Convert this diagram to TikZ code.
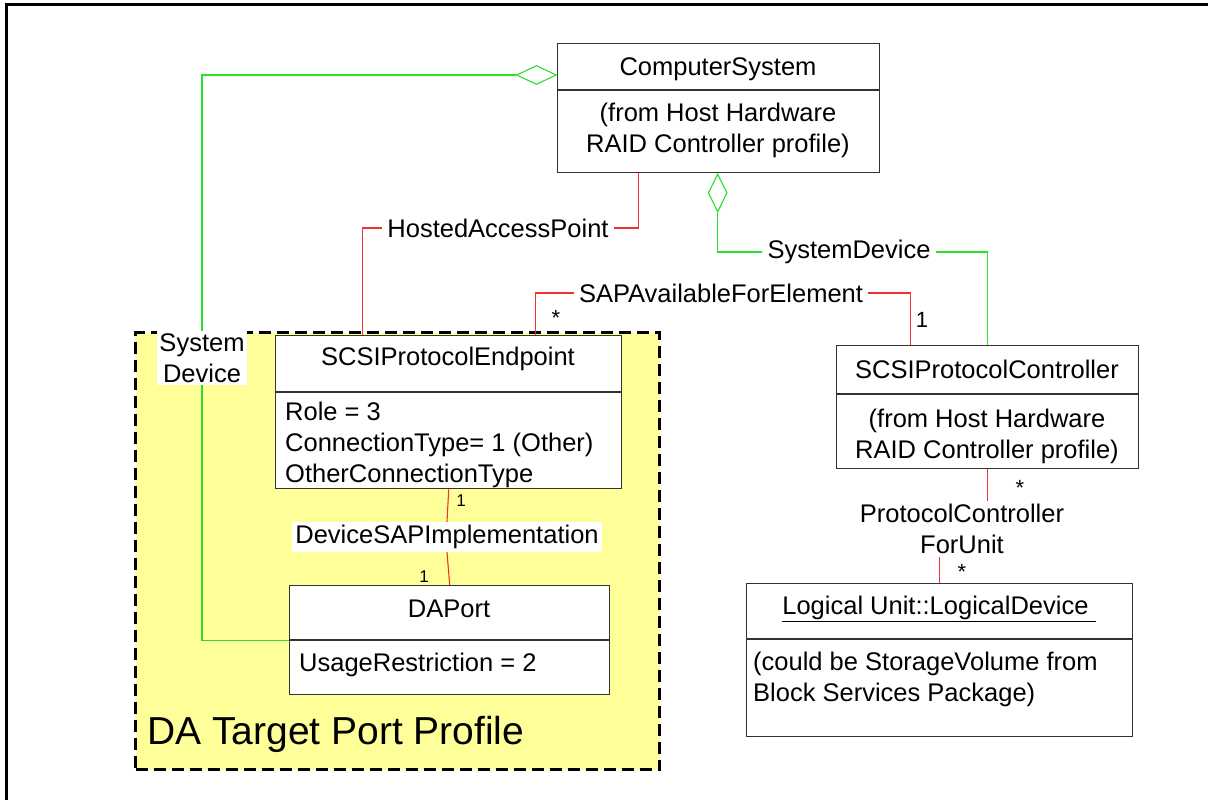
\documentclass[tikz,border=0pt]{standalone}
\usepackage{fontspec}
\setmainfont{Liberation Sans}
\usepackage{xcolor}
\usetikzlibrary{positioning,shapes.geometric}

\definecolor{profileyellow}{RGB}{255,255,153}
\definecolor{assocred}{RGB}{238,50,50}
\definecolor{aggrgreen}{RGB}{40,225,40}

\tikzset{
	classbox/.style={draw=black!80, line width=1.4pt, fill=white, anchor=north west, inner sep=0pt},
	classline/.style={draw=black!80, line width=1.4pt},
	profilebox/.style={draw=black, line width=3pt, dash pattern=on 12pt off 6pt, fill=profileyellow, anchor=north west, inner sep=0pt},
	assoc/.style={draw=assocred, line width=1.1pt},
	aggr/.style={draw=aggrgreen, line width=1.1pt},
	diam/.style={diamond, draw=aggrgreen, line width=1.1pt, fill=white, inner sep=0pt},
	txt/.style={font=\fontsize{25.5}{31}\selectfont, inner sep=0pt},
	lbl/.style={font=\fontsize{25.5}{31}\selectfont, inner sep=5pt},
	mult/.style={font=\fontsize{22}{26}\selectfont, inner sep=0pt},
	smallmult/.style={font=\fontsize{17}{20}\selectfont, inner sep=0pt}
}

\begin{document}
\begin{tikzpicture}[x=1pt, y=-1pt]
	\useasboundingbox (0,0) rectangle (1208,800);
	% frame
	\draw [line width=3pt] (6,800) -- (6,5) -- (1208,5);
	
	% profile
	\node [profilebox, minimum width=524pt, minimum height=437pt] (profile) at (134,331) {};
	\node [txt, anchor=west, font=\fontsize{39}{45}\selectfont] (profilename) at (147,734) {DA Target Port Profile};
	
	% classes
	\node [classbox, minimum width=322pt, minimum height=129pt] (cs) at (557,43) {};
	\draw [classline] (557,90) -- (879,90);
	\node [txt] (cstitle) at (718,69) {ComputerSystem};
	\node [txt, align=center] (csbody) at (718,130) {(from Host Hardware\\RAID Controller profile)};
	
	\node [classbox, minimum width=346pt, minimum height=153pt] (sep) at (275,335) {};
	\draw [classline] (275,392) -- (621,392);
	\node [txt] (septitle) at (448,359) {SCSIProtocolEndpoint};
	\node [txt, align=left, anchor=west] (sepbody) at (285,445) {Role = 3\\ConnectionType= 1 (Other)\\OtherConnectionType};
	
	\node [classbox, minimum width=320pt, minimum height=109pt] (dap) at (289,585) {};
	\draw [classline] (289,640) -- (609,640);
	\node [txt] (daptitle) at (449,609) {DAPort};
	\node [txt, anchor=west] (dapbody) at (299,665) {UsageRestriction = 2};
	
	\node [classbox, minimum width=302pt, minimum height=123pt] (spc) at (836,345) {};
	\draw [classline] (836,394) -- (1138,394);
	\node [txt] (spctitle) at (987,369) {SCSIProtocolController};
	\node [txt, align=center] (spcbody) at (987,436) {(from Host Hardware\\RAID Controller profile)};
	
	\node [classbox, minimum width=386pt, minimum height=153pt] (ld) at (746,583) {};
	\draw [classline] (746,639) -- (1132,639);
	\node [txt] (ldtitle) at (939,609) {\underline{Logical Unit::LogicalDevice\ }};
	\node [txt, align=left, anchor=west] (ldbody) at (753,679) {(could be StorageVolume from\\Block Services Package)};
	
	% aggregations
	\node [diam, minimum width=40pt, minimum height=19pt, anchor=east] (dsysleft) at (557,75) {};
	\node [lbl, fill=white, align=center, inner sep=2pt] (sdleft) at (202,358) {System\\Device};
	\draw [aggr] (dsysleft.west) -| (sdleft.north);
	\draw [aggr] (sdleft.south) -- (sdleft.south |- dap.west) -- (dap.west);
	
	\node [diam, minimum width=19pt, minimum height=38pt, anchor=north] (dsysright) at ([xshift=-1pt]cs.south) {};
	\node [lbl] (sdright) at (849,252) {SystemDevice};
	\draw [aggr] (dsysright.south) |- (sdright.west);
	\draw [aggr] (sdright.east) -| (spc.north);
	
	% associations
	\node [lbl] (hap) at (498,228) {HostedAccessPoint};
	\draw [assoc] ([xshift=-80pt]cs.south) |- (hap.east);
	\draw [assoc] (hap.west) -| ([xshift=-86pt]sep.north);
	
	\node [lbl] (sap) at (721,293) {SAPAvailableForElement};
	\draw [assoc] ([xshift=87pt]sep.north) |- (sap.west);
	\draw [assoc] (sap.east) -| ([xshift=-77pt]spc.north);
	\node [mult] (sapmany) at (556,318) {*};
	\node [mult] (sapone) at (922,320) {1};
	
	\node [lbl, fill=white, inner sep=3pt] (dsi) at (447,537) {DeviceSAPImplementation};
	\draw [assoc] (sep.south) -- (dsi.north);
	\draw [assoc] (dsi.south) -- (dap.north);
	\node [smallmult] (dsione) at (461,501) {1};
	\node [smallmult] (dsitwo) at (424,577) {1};
	
	\node [lbl, align=center, inner sep=3pt] (pcfu) at (962,529) {ProtocolController\\ForUnit};
	\draw [assoc] (spc.south) -- (spc.south |- pcfu.north);
	\draw [assoc] (ld.north) -- (ld.north |- pcfu.south);
	\node [mult] (pcfumany) at (1020,488) {*};
	\node [mult] (ldmany) at (962,572) {*};
\end{tikzpicture}
\end{document}
